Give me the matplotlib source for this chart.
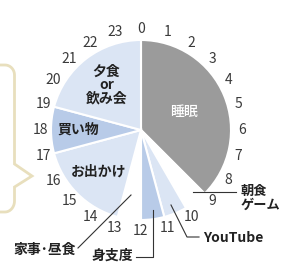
import numpy as np
import matplotlib
matplotlib.use('Agg')
import matplotlib.pyplot as plt

plt.rcParams['font.family'] = ['Noto Sans CJK JP', 'DejaVu Sans']

# 1日の過ごし方 (0時スタート、時計回り)
activities = ['睡眠', '朝食\nゲーム', 'YouTube', '身支度', '家事･昼食', 'お出かけ', '買い物', '夕食\nor\n飲み会']
hours = [9, 1, 1, 1, 1, 4, 2, 5]
wedge_colors = ['#9b9b9b', '#ffffff', '#dbe5f4', '#b8cbe8', '#ffffff', '#dbe5f4', '#b8cbe8', '#dbe5f4']
clock_ticks = list(range(24))

W, H = 281, 272
cx, cy, R = 141, 130, 90

fig = plt.figure(figsize=(W / 100, H / 100), dpi=100)
ax = fig.add_axes([0, 0, 1, 1])

# y軸を下向きにするので、startangle=-90 & counterclock=True で「上から時計回り」
ax.pie(hours, colors=wedge_colors, radius=R, center=(cx, cy),
       startangle=-90, counterclock=True,
       wedgeprops=dict(edgecolor='white', linewidth=1.5))
ax.set_xlim(0, W)
ax.set_ylim(H, 0)
ax.set_aspect('equal')
ax.axis('off')

# 時刻の目盛り
for h in clock_ticks:
    a = np.deg2rad(h * 15)
    r = 101
    ax.text(cx + r * np.sin(a), cy - r * np.cos(a), str(h), fontsize=10,
            color='#3a3a3a', ha='center', va='center')

# 扇の中のラベル
cum = np.cumsum([0] + hours)
inner = {0: (0.52, 'white', 'medium'), 5: (0.66, '#222222', 'bold'),
         6: (0.70, '#222222', 'bold'), 7: (0.63, '#222222', 'bold')}
for i, (frac, col, wt) in inner.items():
    mid = np.deg2rad((cum[i] + cum[i + 1]) / 2 * 15)
    ax.text(cx + frac * R * np.sin(mid), cy - frac * R * np.cos(mid), activities[i],
            fontsize=10, color=col, fontweight=wt, ha='center', va='center',
            linespacing=0.95)

# 引き出し線つきのラベル
lc = '#333333'
ax.plot([193, 236], [192, 192], color=lc, lw=0.8)
ax.text(241, 198, activities[1], fontsize=9.5, fontweight='bold', color='#222222',
        ha='left', va='center', linespacing=0.95)

ax.plot([171, 187, 199], [205, 237, 237], color=lc, lw=0.8)
ax.text(203, 238, activities[2], fontsize=10, fontweight='bold', color='#222222',
        ha='left', va='center')

ax.plot([153, 153, 136], [210, 257, 257], color=lc, lw=0.8)
ax.text(112, 256, activities[3], fontsize=10, fontweight='bold', color='#222222',
        ha='center', va='center')

ax.plot([131, 78], [195, 248], color=lc, lw=0.8)
ax.text(45, 250, activities[4], fontsize=10, fontweight='bold', color='#222222',
        ha='center', va='center')

# 左の吹き出し枠
t = np.linspace(np.pi / 2, 0, 10)
bub_x = [0] + list(5 + 9.5 * np.cos(t)) + [14.5, 32, 14.5, 14.5]
bub_y = [65] + list(75 - 10 * np.sin(t)) + [164, 176, 187, 201]
t2 = np.linspace(0, -np.pi / 2, 10)
bub_x += list(5 + 9.5 * np.cos(t2)) + [0]
bub_y += list(201 - 11 * np.sin(t2)) + [212]
ax.plot(bub_x, bub_y, color='#e8dfbd', lw=2, solid_joinstyle='miter')

fig.savefig('out.png', dpi=100)
